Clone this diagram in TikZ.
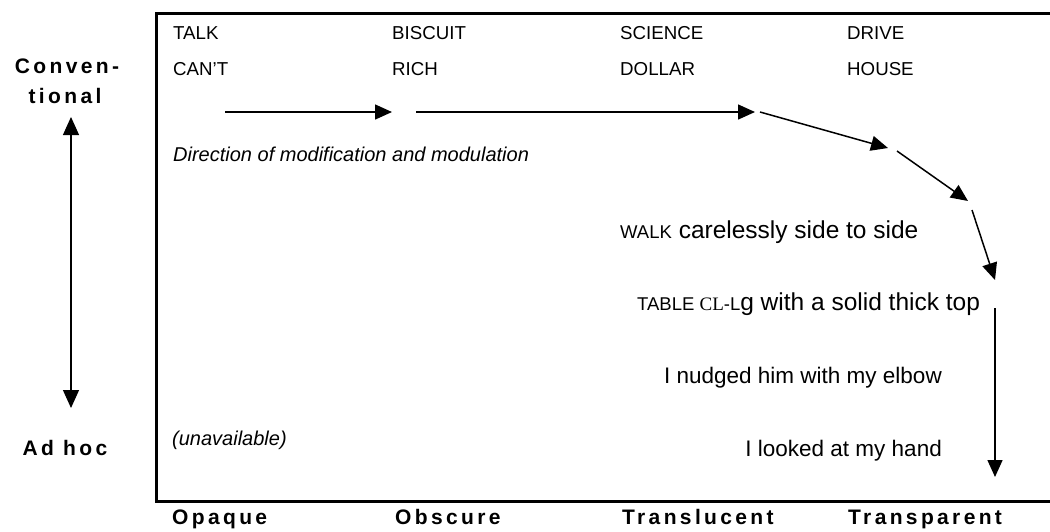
\documentclass[tikz,border=0pt]{standalone}
\usepackage{fontspec}
\setmainfont{Liberation Sans}
\newfontfamily\serifcl{Liberation Serif}
\newfontfamily\lblfont[LetterSpace=16]{Liberation Sans}
\usetikzlibrary{arrows.meta}
\tikzset{
  sm/.style={font=\fontsize{18.7}{21}\selectfont, anchor=base west, inner sep=0pt},
  smit/.style={font=\fontsize{20}{22}\selectfont\itshape, anchor=base west, inner sep=0pt},
  ex/.style={anchor=base west, inner sep=0pt},
  exr/.style={anchor=base east, inner sep=0pt, font=\fontsize{22.5}{25}\selectfont},
  lbl/.style={font=\lblfont\fontsize{21}{24}\selectfont\bfseries, anchor=base, inner sep=0pt},
  lblw/.style={font=\lblfont\fontsize{21}{24}\selectfont\bfseries, anchor=base west, inner sep=0pt},
  arr/.style={line width=1.5pt, -{Triangle[length=17pt,width=15pt]}},
  dbl/.style={line width=1.2pt, {Triangle[length=18pt,width=16pt]}-{Triangle[length=18pt,width=16pt]}},
  frame/.style={line width=3pt}
}
\newcommand{\smc}[1]{{\fontsize{18.5}{21}\selectfont #1}}
\newcommand{\bgt}[1]{{\fontsize{24.5}{27}\selectfont #1}}
\begin{document}
\begin{tikzpicture}[x=1pt,y=-1pt]
\useasboundingbox (0,0) rectangle (1050,531);
\fill[white] (0,0) rectangle (1050,531);
% frame
\draw[frame] (1052,13) -- (156,13) -- (156,501) -- (1052,501);
% top words
\node[sm] (talk) at (173,39) {TALK};
\node[sm] (cant) at (173,75) {CAN'T};
\node[sm] (biscuit) at (392,39) {BISCUIT};
\node[sm] (rich) at (392,75) {RICH};
\node[sm] (science) at (620,39) {SCIENCE};
\node[sm] (dollar) at (620,75) {DOLLAR};
\node[sm] (drive) at (847,39) {DRIVE};
\node[sm] (house) at (847,75) {HOUSE};
% direction
\node[smit] (dir) at (173,161) {Direction of modification and modulation};
% examples
\node[ex] (walk) at (620,238) {\smc{WALK}\bgt{\ carelessly side to side}};
\node[ex] (table) at (637,310) {\smc{TABLE\ }{\serifcl\fontsize{19}{21}\selectfont CL}\smc{-L}\bgt{g with a solid thick top}};
\node[exr] (nudge) at (942,383) {I nudged him with my elbow};
\node[exr] (look) at (942,456) {I looked at my hand};
\node[smit] (unav) at (172,445) {(unavailable)};
% left labels
\node[lbl] (conv1) at (67,73) {Conven-};
\node[lbl] (conv2) at (65,103) {tional};
\node[lbl] (adhoc) at (65,455) {Ad\ hoc};
% bottom labels
\node[lblw] (opaque) at (172,524) {Opaque};
\node[lblw] (obscure) at (395,524) {Obscure};
\node[lblw] (transl) at (622,524) {Translucent};
\node[lblw] (transp) at (848,524) {Transparent};
% arrow chain
\coordinate (p1) at (225,112);
\coordinate (p2) at (392,112);
\coordinate (p3) at (416,112);
\coordinate (p4) at (755,112);
\coordinate (p5) at (760,112);
\coordinate (p6) at (888,148);
\coordinate (p7) at (897,151);
\coordinate (p8) at (968,201);
\coordinate (p9) at (972,210);
\coordinate (p10) at (995,280);
\coordinate (p11) at (995,308);
\coordinate (p12) at (995,477);
\draw[arr] (p1) -- (p2);
\draw[arr] (p3) -- (p4);
\draw[arr] (p5) -- (p6);
\draw[arr] (p7) -- (p8);
\draw[arr] (p9) -- (p10);
\draw[arr] (p11) -- (p12);
% vertical double arrow
\coordinate (vtop) at (71,117);
\coordinate (vbot) at (71,408);
\draw[dbl] (vtop) -- (vbot);
\end{tikzpicture}
\end{document}
